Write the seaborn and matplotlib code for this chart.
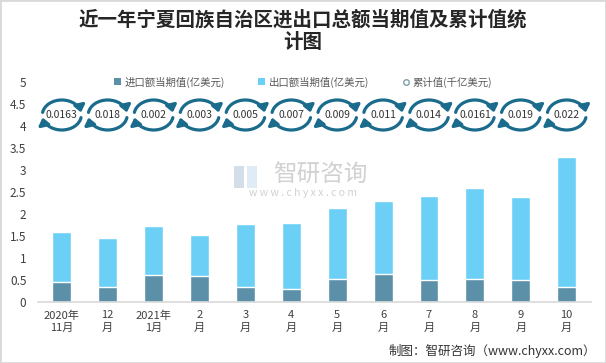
import numpy as np
import pandas as pd
import matplotlib
matplotlib.use("Agg")
import matplotlib.pyplot as plt
import seaborn as sns
from matplotlib.patches import FancyArrowPatch, Rectangle, Patch
from matplotlib.lines import Line2D
from matplotlib.path import Path
from matplotlib.transforms import Affine2D, ScaledTranslation

# ---------------- data ----------------
months = ["2020年\n11月", "12\n月", "2021年\n1月", "2\n月", "3\n月", "4\n月",
          "5\n月", "6\n月", "7\n月", "8\n月", "9\n月", "10\n月"]
import_vals = [0.45, 0.34, 0.61, 0.59, 0.34, 0.30, 0.52, 0.64, 0.50, 0.52, 0.50, 0.34]
export_vals = [1.14, 1.11, 1.12, 0.93, 1.43, 1.50, 1.62, 1.66, 1.91, 2.07, 1.89, 2.96]
cumulative_vals = [0.0163, 0.018, 0.002, 0.003, 0.005, 0.007, 0.009, 0.011, 0.014, 0.0161, 0.019, 0.022]
y_ticks = [0, 0.5, 1, 1.5, 2, 2.5, 3, 3.5, 4, 4.5, 5]
series_names = ["进口额当期值(亿美元)", "出口额当期值(亿美元)", "累计值(千亿美元)"]
title = "近一年宁夏回族自治区进出口总额当期值及累计值统\n计图"
source = "制图：智研咨询（www.chyxx.com）"

# ---------------- style ----------------
IMPORT_C = "#5b90a8"
EXPORT_C = "#6ccff6"
ICON_C = "#1b6b8c"
TEXT_C = "#404040"

sns.set_theme(style="white")
plt.rcParams["font.family"] = ["Noto Sans CJK SC", "DejaVu Sans"]

W, H, DPI = 606, 363, 100
fig = plt.figure(figsize=(W / DPI, H / DPI), dpi=DPI)
ax = fig.add_axes([37.5 / W, (H - 302) / H, (591 - 37.5) / W, 220 / H])

df = pd.DataFrame({
    "month": months,
    "import": import_vals,
    "total": np.array(import_vals) + np.array(export_vals),
})

sns.barplot(data=df, x="month", y="total", order=months, color=EXPORT_C,
            saturation=1, width=0.41, errorbar=None, ax=ax)
sns.barplot(data=df, x="month", y="import", order=months, color=IMPORT_C,
            saturation=1, width=0.41, errorbar=None, ax=ax)

ax.set_xlim(-0.53, len(months) - 0.47)
ax.set_ylim(0, 5)
ax.set_yticks(y_ticks)
ax.set_yticklabels([f"{v:g}" for v in y_ticks])
ax.set_xlabel("")
ax.set_ylabel("")
ax.tick_params(axis="y", length=0, pad=8, labelsize=8.5, colors=TEXT_C)
ax.tick_params(axis="x", length=0, pad=6, labelsize=8, colors=TEXT_C)
for lbl in ax.get_xticklabels():
    lbl.set_linespacing(1.3)
for s in ["left", "right", "top"]:
    ax.spines[s].set_visible(False)
ax.spines["bottom"].set_color("#d9d9d9")
ax.spines["bottom"].set_linewidth(1.2)
ax.grid(False)

# ---------------- cumulative markers (circular arrow icons) ----------------
icon_y = 0.85  # axes fraction
blend = ax.get_xaxis_transform()
rx, ry = 19.5, 15.0  # pixels
top_arc = Path.arc(10, 170)
bot_arc = Path.arc(190, 350)
for i, v in enumerate(cumulative_vals):
    for arc in (top_arc, bot_arc):
        tr = Affine2D().scale(rx, ry) + ScaledTranslation(i, icon_y, blend)
        p = FancyArrowPatch(path=arc, arrowstyle="<|-,head_length=0.5,head_width=0.4",
                            mutation_scale=8, lw=2.3, color=ICON_C,
                            transform=tr, shrinkA=0, shrinkB=0, clip_on=False)
        ax.add_patch(p)
    ax.text(i, icon_y, f"{v:g}", transform=blend, ha="center", va="center",
            fontsize=7.5, color="#333333", zorder=5)

# ---------------- watermark ----------------
fig.text(320 / W, 1 - 175 / H, "智研咨询", fontsize=17, color="#cccccc",
         ha="center", va="center", alpha=0.9)
fig.text(303 / W, 1 - 193 / H, "w w w . c h y x x . c o m", fontsize=7.5,
         color="#cccccc", ha="center", va="center", alpha=0.9)
fig.patches.append(Rectangle((234 / W, 1 - 188 / H), 10 / W, 22 / H,
                             transform=fig.transFigure, fc="#c9d6e3", ec="none", alpha=0.8))
fig.patches.append(Rectangle((247 / W, 1 - 188 / H), 10 / W, 22 / H,
                             transform=fig.transFigure, fc="#d8e8f3", ec="none", alpha=0.8))

# ---------------- title, legend, source ----------------
fig.text(0.5, 1 - 10 / H, title, ha="center", va="top", fontsize=14,
         fontweight="bold", color="#262626", linespacing=1.25)

handles = [Patch(fc=IMPORT_C, ec="none"), Patch(fc=EXPORT_C, ec="none"),
           Line2D([], [], ls="", marker="o", ms=4, mfc="white", mec="#7f9fb0", mew=1)]
leg = fig.legend(handles, series_names, loc="center", bbox_to_anchor=(303 / W, 1 - 82 / H),
                 ncol=3, frameon=False, fontsize=7.5, handlelength=0.7, handleheight=0.7,
                 handletextpad=0.3, columnspacing=3.2)
for t in leg.get_texts():
    t.set_color("#595959")

fig.text(596 / W, 1 - 351 / H, source, ha="right", va="center", fontsize=9, color="#333333")

fig.patches.append(Rectangle((0, 0), 1, 1, transform=fig.transFigure, fill=False,
                             ec="#d9d9d9", lw=2))

fig.savefig("out.png", dpi=DPI)
